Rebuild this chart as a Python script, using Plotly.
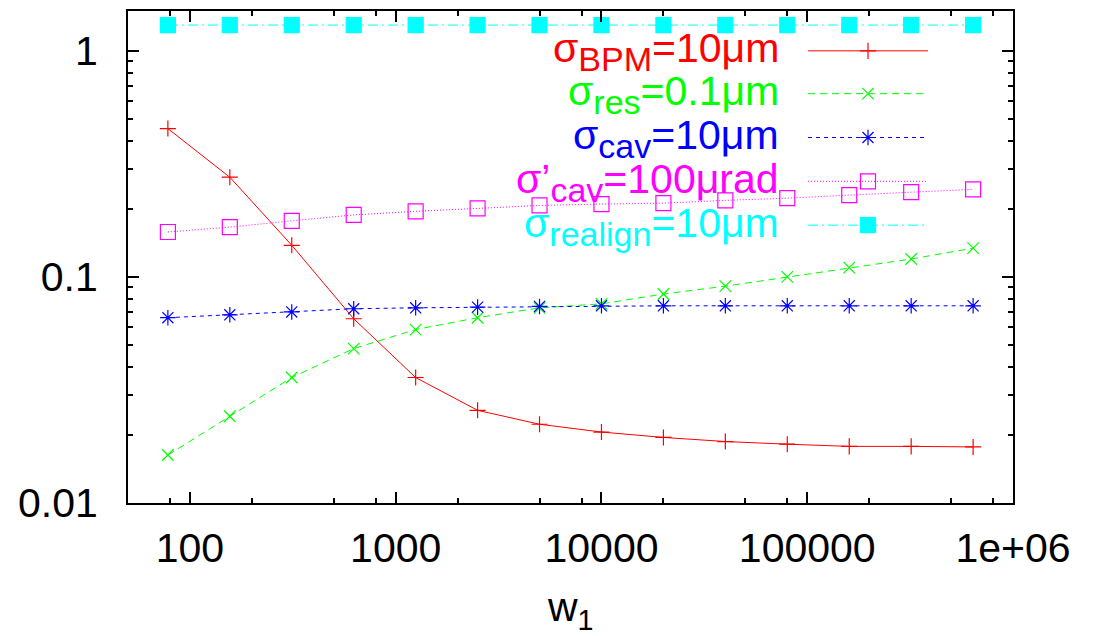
import plotly.graph_objects as go

# ---- data ----
w1 = [78.125, 156.25, 312.5, 625, 1250, 2500, 5000, 10000, 20000, 40000,
      80000, 160000, 320000, 640000]
sigma_bpm = [0.453, 0.276, 0.138, 0.0653, 0.0359, 0.0257, 0.0223, 0.0206,
             0.0195, 0.0187, 0.0182, 0.0178, 0.0178, 0.0177]
sigma_res = [0.0163, 0.0242, 0.0359, 0.0482, 0.0585, 0.0660, 0.0730, 0.0760,
             0.0840, 0.0910, 0.1000, 0.1100, 0.1200, 0.1340]
sigma_cav = [0.0660, 0.0680, 0.0700, 0.0723, 0.0730, 0.0735, 0.0740, 0.0745,
             0.0745, 0.0745, 0.0745, 0.0745, 0.0745, 0.0745]
sigma_cavp = [0.158, 0.166, 0.177, 0.188, 0.195, 0.201, 0.207, 0.210,
              0.212, 0.218, 0.223, 0.230, 0.237, 0.244]
sigma_realign = [1.30] * 14

label_main = ["σ", "σ", "σ", "σ’", "σ"]
label_sub = ["BPM", "res", "cav", "cav", "realign"]
label_value = ["=10μm", "=0.1μm", "=10μm", "=100μrad", "=10μm"]
x_tick_vals = [100, 1000, 10000, 100000, 1000000]
x_tick_text = ["100", "1000", "10000", "100000", "1e+06"]
x_minor_vals = [80, 200, 500, 800, 2000, 5000, 8000, 20000, 50000, 80000,
                200000, 500000, 800000]
y_tick_vals = [0.01, 0.1, 1]
y_tick_text = ["0.01", "0.1", "1"]
y_minor_vals = [0.02, 0.03, 0.04, 0.05, 0.06, 0.07, 0.08, 0.09,
                0.2, 0.3, 0.4, 0.5, 0.6, 0.7, 0.8, 0.9]

FONT = "Liberation Sans, Arial, Helvetica, sans-serif"

styles = [
    dict(color="#ff0000", dash="solid", symbol="cross-thin", size=11.5),
    dict(color="#00ff00", dash="7px,5px", symbol="x-thin", size=11.5),
    dict(color="#0000ff", dash="4px,4px", symbol="asterisk", size=13),
    dict(color="#ff00ff", dash="1px,2px", symbol="square-open", size=15),
    dict(color="#00ffff", dash="10px,4px,2px,4px", symbol="square", size=15),
]
all_y = [sigma_bpm, sigma_res, sigma_cav, sigma_cavp, sigma_realign]

fig = go.Figure()
for ys, st in zip(all_y, styles):
    fig.add_trace(go.Scatter(
        x=w1, y=ys, mode="lines+markers", showlegend=False,
        line=dict(color=st["color"], width=1, dash=st["dash"]),
        marker=dict(symbol=st["symbol"], size=st["size"], color=st["color"],
                    line=dict(color=st["color"], width=1.2)),
    ))

# ---- custom gnuplot-like key (overlay axes in plot-area fraction) ----
L, R, T, B = 128, 1013, 9, 503
W, H = R - L, B - T
def fx(px):
    return (px - L) / W
def fy(py):
    return (B - py) / H

row_y = [49, 92, 136, 180, 224]
for st, ry in zip(styles, row_y):
    fig.add_trace(go.Scatter(
        x=[fx(808), fx(928)], y=[fy(ry), fy(ry)], mode="lines",
        xaxis="x2", yaxis="y2", showlegend=False, hoverinfo="skip",
        line=dict(color=st["color"], width=1, dash=st["dash"]),
    ))
    fig.add_trace(go.Scatter(
        x=[fx(868)], y=[fy(ry)], mode="markers",
        xaxis="x2", yaxis="y2", showlegend=False, hoverinfo="skip",
        marker=dict(symbol=st["symbol"], size=st["size"], color=st["color"],
                    line=dict(color=st["color"], width=1.2)),
    ))

annotations = []
for m, s, v, st, ry in zip(label_main, label_sub, label_value, styles, row_y):
    text = (m + "<sub><span style='font-size:34px'>" + s + "</span></sub>" + v)
    annotations.append(dict(
        text=text, xref="x2", yref="y2", x=fx(781), y=fy(ry + 1),
        xanchor="right", yanchor="middle", showarrow=False,
        font=dict(family=FONT, size=41, color=st["color"]),
    ))
annotations.append(dict(
    text="w<sub>1</sub>", xref="paper", yref="paper", x=0.5, y=fy(610),
    xanchor="center", yanchor="middle", showarrow=False,
    font=dict(family=FONT, size=41, color="black"),
))

axis_common = dict(
    showline=True, linecolor="black", linewidth=2, mirror="allticks",
    ticks="inside", tickcolor="black", tickwidth=1.5, showgrid=False,
    zeroline=False, tickfont=dict(family=FONT, size=41, color="black"),
)

fig.update_layout(
    width=1103, height=636,
    margin=dict(l=L, r=1103 - R, t=T, b=636 - B),
    paper_bgcolor="white", plot_bgcolor="white",
    font=dict(family=FONT, color="black"),
    xaxis=dict(type="log", range=[1.69897, 6.0], tickmode="array",
               tickvals=x_tick_vals, ticktext=x_tick_text, ticklen=11,
               ticklabelstandoff=8,
               minor=dict(tickmode="array", tickvals=x_minor_vals,
                          ticks="inside", ticklen=5, tickcolor="black",
                          tickwidth=1.5, showgrid=False),
               **axis_common),
    yaxis=dict(type="log", range=[-2.0, 0.17609], tickmode="array",
               tickvals=y_tick_vals, ticktext=y_tick_text, ticklen=11,
               ticklabelstandoff=20,
               minor=dict(tickmode="array", tickvals=y_minor_vals,
                          ticks="inside", ticklen=5, tickcolor="black",
                          tickwidth=1.5, showgrid=False),
               **axis_common),
    xaxis2=dict(overlaying="x", anchor="y2", range=[0, 1], visible=False,
                fixedrange=True),
    yaxis2=dict(overlaying="y", anchor="x2", range=[0, 1], visible=False,
                fixedrange=True),
    annotations=annotations,
    showlegend=False,
)

fig.write_html("out.html")
